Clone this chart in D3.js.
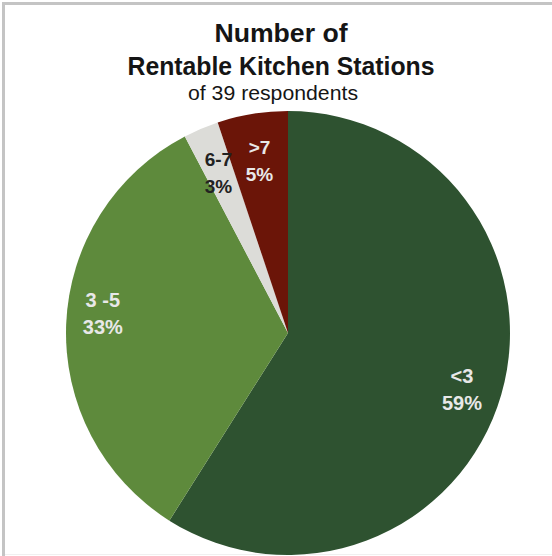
<!DOCTYPE html>
<html>
<head>
<meta charset="utf-8">
<script src="https://cdn.jsdelivr.net/npm/d3@7"></script>
<style>
  body { margin: 0; background: #fff; }
  svg { display: block; }
</style>
</head>
<body>
<script>
// data (39 respondents)
var categories = ["<3", "3 -5", "6-7", ">7"];
var counts = [23, 13, 1, 2];
var percentLabels = ["59%", "33%", "3%", "5%"];
var colors = ["#2e5230", "#5e8a3c", "#dcdcd8", "#6b1508"];
var labelColors = ["#e8e8e8", "#e8e8e8", "#222222", "#e8e8e8"];

var width = 552, height = 556;
var cx = 288, cy = 333, radius = 222;

var svg = d3.select("body").append("svg")
  .attr("width", width)
  .attr("height", height);

// frame
svg.append("line").attr("x1", 3.5).attr("y1", 3).attr("x2", 3.5).attr("y2", 556)
  .attr("stroke", "#c4c4c4").attr("stroke-width", 3);
svg.append("line").attr("x1", 2).attr("y1", 3.5).attr("x2", 552).attr("y2", 3.5)
  .attr("stroke", "#c4c4c4").attr("stroke-width", 3);
svg.append("line").attr("x1", 5).attr("y1", 554.5).attr("x2", 552).attr("y2", 554.5)
  .attr("stroke", "#f0f0f0").attr("stroke-width", 1);

// titles
var title = svg.append("g").attr("font-family", "'Liberation Sans', Arial, sans-serif")
  .attr("text-anchor", "middle").attr("fill", "#151515");
title.append("text").attr("x", 281).attr("y", 42)
  .attr("font-size", 25).attr("font-weight", "bold")
  .attr("textLength", 133).attr("lengthAdjust", "spacingAndGlyphs")
  .text("Number of");
title.append("text").attr("x", 281).attr("y", 75)
  .attr("font-size", 25).attr("font-weight", "bold")
  .attr("textLength", 307).attr("lengthAdjust", "spacingAndGlyphs")
  .text("Rentable Kitchen Stations");
title.append("text").attr("x", 273).attr("y", 100)
  .attr("font-size", 20)
  .attr("textLength", 170).attr("lengthAdjust", "spacingAndGlyphs")
  .text("of 39 respondents");

var pie = d3.pie().sort(null).value(function(d){ return d; });
var arcs = pie(counts);
var arc = d3.arc().innerRadius(0).outerRadius(radius);

var g = svg.append("g").attr("transform", "translate(" + cx + "," + cy + ")");

g.selectAll("path").data(arcs).enter().append("path")
  .attr("d", arc)
  .attr("fill", function(d, i){ return colors[i]; });

// label placement: radius fraction and small angle nudge (degrees) per slice
var labelR = [0.82, 0.84, 0.80, 0.80];
var labelNudge = [1, 4.5, 0, 0];
var label = g.selectAll("g.lbl").data(arcs).enter().append("g")
  .attr("class", "lbl")
  .attr("font-family", "'Liberation Sans', Arial, sans-serif")
  .attr("text-anchor", "middle")
  .attr("font-weight", "bold")
  .attr("font-size", function(d, i){ return i < 2 ? 20 : 19; })
  .attr("fill", function(d, i){ return labelColors[i]; })
  .attr("transform", function(d, i){
    var a = (d.startAngle + d.endAngle) / 2 + labelNudge[i] * Math.PI / 180;
    var r = radius * labelR[i];
    return "translate(" + (r * Math.sin(a)) + "," + (-r * Math.cos(a)) + ")";
  });
label.append("text").attr("y", -4).text(function(d, i){ return categories[i]; });
label.append("text").attr("y", 23).text(function(d, i){ return percentLabels[i]; });
</script>
</body>
</html>
